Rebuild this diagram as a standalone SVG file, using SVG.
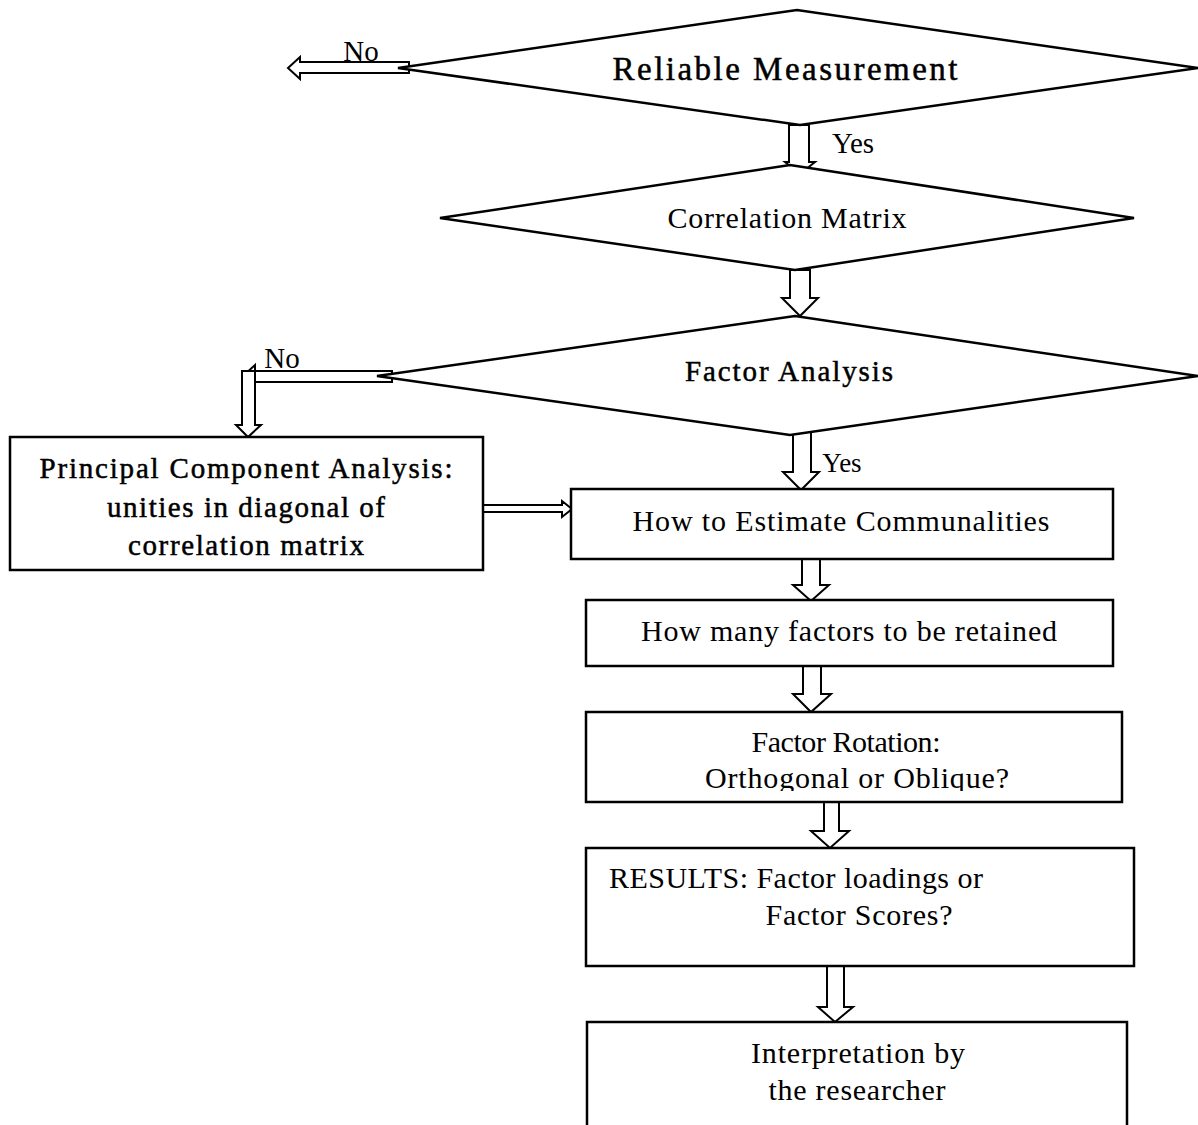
<svg xmlns="http://www.w3.org/2000/svg" width="1198" height="1125" viewBox="0 0 1198 1125">
<style>
.shape{fill:#fff;stroke:#000;stroke-width:2.5}
.arr{fill:#fff;stroke:#000;stroke-width:2;stroke-linejoin:miter}
.t{font-family:"Liberation Serif","Times New Roman",serif;fill:#000;text-anchor:middle}
.s{stroke:#000;stroke-width:0.5}
</style>
<defs>
<clipPath id="clipRot"><rect x="586" y="711" width="536" height="80"/></clipPath>
</defs>
<rect width="1198" height="1125" fill="#fff"/>
<g id="connectors">
<path class="arr" d="M409,62 L300,62 L300,57 L288,68 L300,79 L300,73 L409,73 Z"/>
<path class="arr" d="M789,125 L809,125 L809,162 L815,162 L800,174 L785,162 L789,162 Z"/>
<path class="arr" d="M790,270 L810,270 L810,298 L818,298 L800,316 L782,298 L790,298 Z"/>
<path class="arr" d="M392,371 L255,371 L255,365 L243,376 L255,387 L255,382 L392,382 Z"/>
<path class="arr" d="M242,371 L255,371 L255,425 L261,425 L248,437 L236,425 L242,425 Z"/>
<path class="arr" d="M793,430 L811,430 L811,472 L819,472 L801,490 L783,472 L793,472 Z"/>
<path class="arr" d="M483,505 L562,505 L562,501 L572,509 L562,517 L562,512 L483,512 Z"/>
<path class="arr" d="M802,559 L820,559 L820,585 L829,585 L811,601 L793,585 L802,585 Z"/>
<path class="arr" d="M803,666 L821,666 L821,694 L831,694 L811,712 L793,694 L803,694 Z"/>
<path class="arr" d="M824,802 L839,802 L839,831 L849,831 L830,848 L811,831 L824,831 Z"/>
<path class="arr" d="M827,966 L844,966 L844,1007 L853,1007 L835,1022 L818,1007 L827,1007 Z"/>
</g>
<g id="n-reliable">
<polygon class="shape" points="398,68 797,10 1198,68 800,125" stroke-width="2.2"/>
<text class="t s" x="785" y="80" font-size="33" textLength="345" lengthAdjust="spacing" stroke-width="0.3">Reliable Measurement</text>
</g>
<text class="t" x="361" y="61" font-size="29">No</text>
<text class="t" x="853" y="153" font-size="29">Yes</text>
<g id="n-correlation">
<polygon class="shape" points="440,218 790,165 1134,218 795,270" stroke-width="2.2"/>
<text class="t" x="787" y="228" font-size="30" textLength="239" lengthAdjust="spacing">Correlation Matrix</text>
</g>
<g id="n-factor">
<polygon class="shape" points="377,376 795,316 1198,376 790,435" stroke-width="2.2"/>
<text class="t s" x="789" y="381" font-size="29" textLength="208" lengthAdjust="spacing" stroke-width="0.3">Factor Analysis</text>
</g>
<text class="t" x="282" y="368" font-size="29">No</text>
<text class="t" x="842" y="472" font-size="27">Yes</text>
<g id="n-pca">
<rect class="shape" x="10" y="437" width="473" height="133"/>
<text class="t s" x="246" y="478" font-size="29" textLength="413" lengthAdjust="spacing">Principal Component Analysis:</text>
<text class="t s" x="246" y="517" font-size="29" textLength="278" lengthAdjust="spacing">unities in diagonal of</text>
<text class="t s" x="246" y="555" font-size="29" textLength="236" lengthAdjust="spacing">correlation matrix</text>
</g>
<g id="n-communalities">
<rect class="shape" x="571" y="489" width="542" height="70"/>
<text class="t" x="841" y="531" font-size="30" textLength="417" lengthAdjust="spacing">How to Estimate Communalities</text>
</g>
<g id="n-retained">
<rect class="shape" x="586" y="600" width="527" height="66"/>
<text class="t" x="849" y="641" font-size="30" textLength="416" lengthAdjust="spacing">How many factors to be retained</text>
</g>
<g id="n-rotation">
<rect class="shape" x="586" y="712" width="536" height="90"/>
<text class="t" x="846" y="752" font-size="30" textLength="189" lengthAdjust="spacing">Factor Rotation:</text>
<text class="t" x="857" y="788" font-size="30" textLength="304" lengthAdjust="spacing" clip-path="url(#clipRot)">Orthogonal or Oblique?</text>
</g>
<g id="n-results">
<rect class="shape" x="586" y="848" width="548" height="118"/>
<text class="t" x="796" y="888" font-size="30" textLength="374" lengthAdjust="spacing">RESULTS: Factor loadings or</text>
<text class="t" x="859" y="925" font-size="30" textLength="187" lengthAdjust="spacing">Factor Scores?</text>
</g>
<g id="n-interpretation">
<path class="shape" d="M587,1127 L587,1022 L1127,1022 L1127,1127"/>
<text class="t" x="858" y="1063" font-size="30" textLength="214" lengthAdjust="spacing">Interpretation by</text>
<text class="t" x="857" y="1100" font-size="30" textLength="177" lengthAdjust="spacing">the researcher</text>
</g>
</svg>
